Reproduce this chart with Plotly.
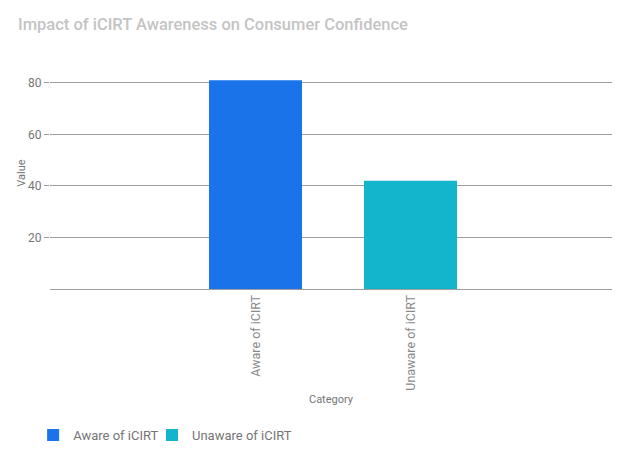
import plotly.graph_objects as go

categories = ["Aware of iCIRT", "Unaware of iCIRT"]
values = [81, 42]
colors = ["#1a73e8", "#12b5cb"]
y_ticks = [20, 40, 60, 80]

fig = go.Figure()
for i, (cat, val, col) in enumerate(zip(categories, values, colors)):
    fig.add_trace(go.Bar(x=[cat], y=[val], name=cat, marker_color=col,
                         marker_line_width=0, width=0.6,
                         legend="legend" if i == 0 else "legend2"))

font_family = "Roboto, Open Sans, sans-serif"
legend_common = dict(orientation="h", xanchor="left", y=-0.63, yanchor="middle",
                     font=dict(size=13, color="#757575"), itemwidth=30,
                     bgcolor="rgba(0,0,0,0)")
fig.update_layout(
    width=628, height=458,
    margin=dict(l=50, r=16, t=57, b=169, autoexpand=False),
    paper_bgcolor="white", plot_bgcolor="white",
    barmode="overlay",
    font=dict(family=font_family, color="#757575"),
    title=dict(text="Impact of iCIRT Awareness on Consumer Confidence",
               x=0, xref="container", xanchor="left", y=0.948, yanchor="middle",
               pad=dict(l=18),
               font=dict(size=16.5, color="#c4c4c4", family=font_family, weight=500)),
    showlegend=True,
    legend=dict(x=-0.030, **legend_common),
    legend2=dict(x=0.1815, **legend_common),
    xaxis=dict(type="category", range=[-1.326, 2.30], showgrid=False,
               tickangle=-90, tickfont=dict(size=12.5, color="#8a8a8a"),
               ticks="", showline=True, linecolor="#9e9e9e", linewidth=1,
               automargin=False,
               title=dict(text="Category", font=dict(size=11, color="#757575"), standoff=5)),
    yaxis=dict(range=[0, 90], tickvals=y_ticks, showgrid=True, gridcolor="#9e9e9e",
               gridwidth=1, zeroline=False, ticks="outside", ticklen=5,
               tickcolor="#9e9e9e", tickfont=dict(size=12, color="#757575"),
               automargin=False,
               title=dict(text="Value", font=dict(size=11, color="#757575"), standoff=0)),
)

fig.write_html("out.html")
